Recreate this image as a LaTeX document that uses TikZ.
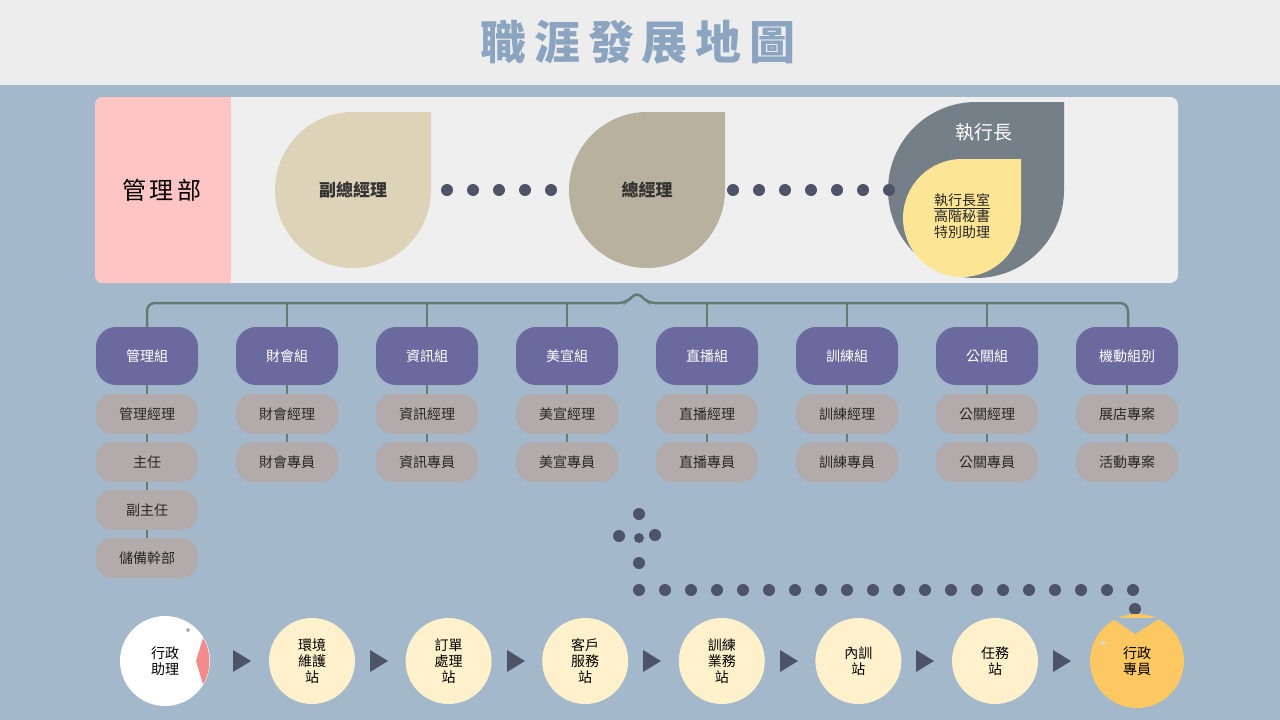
\documentclass[tikz,border=0pt]{standalone}
\usepackage{fontspec}
\setmainfont{Noto Sans CJK TC}
\usetikzlibrary{positioning}
\definecolor{bgblue}{HTML}{A3B8CA}
\definecolor{bandgrey}{HTML}{EDEDED}
\definecolor{titleblue}{HTML}{8BA5C1}
\definecolor{panelgrey}{HTML}{EFEFEF}
\definecolor{deptpink}{HTML}{FFC5C5}
\definecolor{vpsand}{HTML}{DDD3B8}
\definecolor{gmsand}{HTML}{B8B19E}
\definecolor{ceogrey}{HTML}{757F87}
\definecolor{ceoyellow}{HTML}{FCE594}
\definecolor{dotnavy}{HTML}{4D5468}
\definecolor{linegreen}{HTML}{5F7D72}
\definecolor{grouppurple}{HTML}{6B6A9E}
\definecolor{rolegrey}{HTML}{B3ABAB}
\definecolor{stationcream}{HTML}{FFF1CC}
\definecolor{staffgold}{HTML}{FDC862}
\definecolor{mouthpink}{HTML}{F28B8B}
\tikzstyle{group} = [rounded corners=20pt,fill=grouppurple,text=white,minimum width=102pt,minimum height=58pt,font=\fontsize{14}{16}\selectfont]
\tikzstyle{role} = [rounded corners=17pt,fill=rolegrey,text=black!85,minimum width=102pt,minimum height=40pt,font=\fontsize{14}{16}\selectfont]
\tikzstyle{station} = [circle,fill=stationcream,minimum size=86pt,inner sep=0pt,align=center,font=\fontsize{14}{16}\selectfont]
\tikzstyle{dot} = [circle,fill=dotnavy,minimum size=12pt,inner sep=0pt]
\tikzstyle{tri} = [fill=dotnavy]
\tikzstyle{link} = [linegreen,line width=2.5pt]
\newcommand{\teardrop}[4]{% centre x, centre y, radius, colour
  \fill[#4] (#1+#3,#2) -- (#1+#3,#2-#3) -- (#1,#2-#3) arc[start angle=270,end angle=0,radius=#3] -- cycle;}
\begin{document}
\begin{tikzpicture}[x=1pt,y=-1pt]
    \useasboundingbox (0,0) rectangle (1280,720);
    \fill[bgblue] (0,0) rectangle (1280,720);
    \fill[bandgrey] (0,0) rectangle (1280,85);
    \node[text=titleblue,font=\fontsize{46}{50}\selectfont\bfseries] (title) at (638,42) {職\,涯\,發\,展\,地\,圖};

    % Top panel
    \fill[panelgrey,rounded corners=8pt] (95,97) rectangle (1178,283);
    \fill[deptpink,rounded corners=8pt] (95,97) rectangle (231,283);
    \fill[deptpink] (200,97) rectangle (231,283);
    \node[font=\fontsize{24}{28}\selectfont] (dept) at (162,190) {管\,理\,部};

    \teardrop{353}{190}{78}{vpsand}
    \node[font=\fontsize{17}{20}\selectfont\bfseries,text=black!80] (vp) at (353,190) {副總經理};
    \teardrop{647}{190}{78}{gmsand}
    \node[font=\fontsize{17}{20}\selectfont\bfseries,text=black!80] (gm) at (647,190) {總經理};
    \teardrop{976}{190}{88}{ceogrey}
    \node[font=\fontsize{19}{22}\selectfont,text=white] (ceo) at (984,132) {執行長};
    \teardrop{962}{218}{59}{ceoyellow}
    \node[align=center,font=\fontsize{14}{16}\selectfont,text=black!85] (office) at (962,216) {\underline{執行長室}\\高階秘書\\特別助理};

    \foreach \x in {447,473,...,551}
        \node[dot] (d1-\x) at (\x,190) {};
    \foreach \x in {733,759,...,889}
        \node[dot] (d2-\x) at (\x,190) {};

    % Bracket down to the groups
    \draw[link,rounded corners=8pt] (147,327) |- (627,303) -- (637,291) -- (647,303) -| (1128,327);
    \foreach \x in {287,427,567,707,847,987}
        \draw[link] (\x,303) -- (\x,327);

    % Groups and roles
    \foreach \i/\name in {0/管理組,1/財會組,2/資訊組,3/美宣組,4/直播組,5/訓練組,6/公關組,7/機動組別}
        \node[group] (G-\i) at (147+140*\i,356) {\name};
    \foreach \i/\a/\b in {0/管理經理/主任,1/財會經理/財會專員,2/資訊經理/資訊專員,3/美宣經理/美宣專員,4/直播經理/直播專員,5/訓練經理/訓練專員,6/公關經理/公關專員,7/展店專案/活動專案}
    {
        \node[role] (R-\i-1) at (147+140*\i,414) {\a};
        \node[role] (R-\i-2) at (147+140*\i,462) {\b};
        \draw[link,line width=2pt] (G-\i) -- (R-\i-1);
        \draw[link,line width=2pt] (R-\i-1) -- (R-\i-2);
    }
    \node[role] (R-0-3) at (147,510) {副主任};
    \node[role] (R-0-4) at (147,558) {儲備幹部};
    \draw[link,line width=2pt] (R-0-2) -- (R-0-3);
    \draw[link,line width=2pt] (R-0-3) -- (R-0-4);

    % Dotted path
    \node[dot] (p-top) at (639,514) {};
    \node[dot] (p-l) at (619,536) {};
    \node[dot,minimum size=10pt] (p-c) at (639,538) {};
    \node[dot] (p-r) at (655,535) {};
    \node[dot] (p-m) at (639,563) {};
    \foreach \k in {0,...,19}
        \node[dot] (h-\k) at (639+26*\k,590) {};
    \node[dot] (p-end) at (1135,609) {};

    % Bottom track
    \node[circle,fill=white,minimum size=90pt,inner sep=0pt,align=center,font=\fontsize{14}{16}\selectfont] (assist) at (165,661) {行政\\助理};
    \fill[mouthpink] (196,661) -- (203,638) arc[start angle=-31,end angle=31,radius=45] -- cycle;
    \node[circle,fill=black!30,minimum size=4pt,inner sep=0pt] (eye1) at (188,630) {};
    \foreach \i/\txt in {1/環境\\維護\\站,2/訂單\\處理\\站,3/客戶\\服務\\站,4/訓練\\業務\\站,5/內訓\\站,6/任務\\站}
        \node[station] (S-\i) at (312+136.6*\i-136.6,661) {\txt};
    \node[circle,fill=staffgold,minimum size=94pt,inner sep=0pt,align=center,font=\fontsize{14}{16}\selectfont] (staff) at (1137,661) {行政\\專員};
    \fill[bgblue] (1112,618) -- (1135,634) -- (1160,618) -- cycle;
    \node[circle,fill=white!70!gray,minimum size=4pt,inner sep=0pt] (eye2) at (1103,643) {};
    \foreach \x in {242,379,516,652,789,925,1062}
        \fill[tri] (\x-9,650) -- (\x+9,661) -- (\x-9,672) -- cycle;
\end{tikzpicture}
\end{document}
